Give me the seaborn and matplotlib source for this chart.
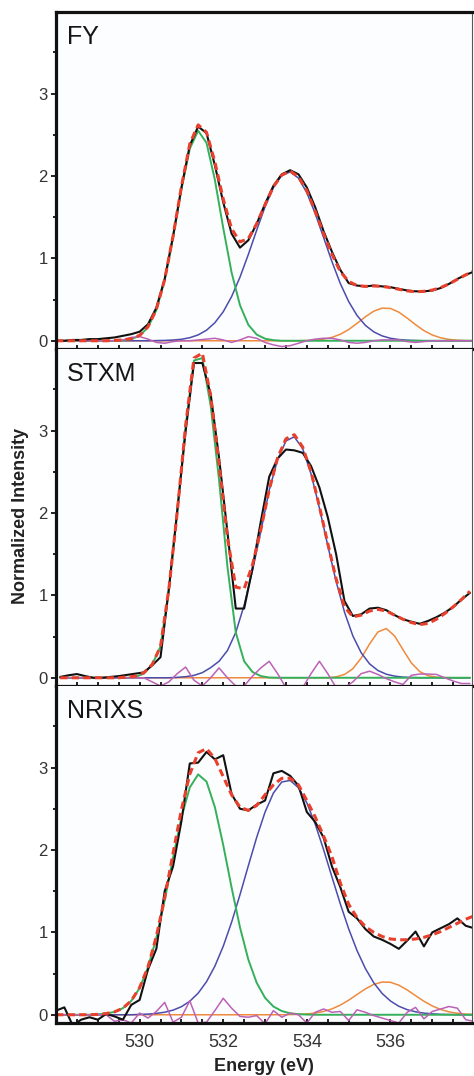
import numpy as np
import pandas as pd
import matplotlib
matplotlib.use("Agg")
import matplotlib.pyplot as plt
import seaborn as sns
from matplotlib.ticker import FixedLocator

sns.set_theme(style="white")
plt.rcParams['font.family'] = ['Liberation Sans', 'DejaVu Sans']

# ---------------- data ----------------
panel_names = ["FY", "STXM", "NRIXS"]

# energy sampling grids (eV)
fy_energy = np.linspace(528.0, 538.0, 51)
stxm_energy = np.linspace(528.1, 537.9, 50)
nrixs_energy = np.linspace(528.0, 538.0, 51)

# FY
fy_data = [0.00, 0.00, 0.01, 0.01, 0.02, 0.02, 0.03, 0.04, 0.06, 0.08,
           0.11, 0.20, 0.40, 0.75, 1.27, 1.86, 2.37, 2.60, 2.52, 2.13,
           1.68, 1.30, 1.13, 1.22, 1.42, 1.66, 1.88, 2.02, 2.07, 2.02,
           1.86, 1.62, 1.33, 1.08, 0.86, 0.70, 0.67, 0.66, 0.67, 0.66,
           0.65, 0.63, 0.61, 0.60, 0.60, 0.61, 0.64, 0.69, 0.75, 0.80, 0.84]
fy_fit = [0.00, 0.00, 0.00, 0.00, 0.00, 0.00, 0.00, 0.005, 0.01, 0.025,
          0.065, 0.17, 0.38, 0.745, 1.27, 1.87, 2.39, 2.62, 2.53, 2.17,
          1.72, 1.36, 1.20, 1.24, 1.42, 1.65, 1.87, 2.01, 2.06, 1.99,
          1.82, 1.57, 1.30, 1.05, 0.84, 0.72, 0.67, 0.66, 0.665, 0.66,
          0.645, 0.625, 0.605, 0.595, 0.60, 0.615, 0.645, 0.69, 0.745, 0.80, 0.85]
fy_green = [0, 0, 0, 0, 0, 0, 0, 0, 0.006, 0.02,
            0.061, 0.163, 0.372, 0.736, 1.254, 1.841, 2.331, 2.549, 2.402, 1.953,
            1.369, 0.828, 0.432, 0.194, 0.075, 0.025, 0.007, 0, 0, 0,
            0, 0, 0, 0, 0, 0, 0, 0, 0, 0,
            0, 0, 0, 0, 0, 0, 0, 0, 0, 0, 0]
fy_blue = [0, 0, 0, 0, 0, 0, 0, 0, 0, 0,
           0, 0, 0.002, 0.004, 0.009, 0.018, 0.037, 0.071, 0.128, 0.219,
           0.352, 0.536, 0.771, 1.047, 1.342, 1.626, 1.859, 2.008, 2.049, 1.974,
           1.796, 1.544, 1.253, 0.961, 0.695, 0.476, 0.307, 0.187, 0.108, 0.059,
           0.030, 0.015, 0.007, 0.003, 0, 0, 0, 0, 0, 0, 0]
fy_orange = [0, 0, 0, 0, 0, 0, 0, 0, 0, 0,
             0, 0, 0, 0, 0, 0, 0, 0, 0, 0,
             0, 0, 0, 0, 0, 0, 0, 0, 0, 0,
             0.003, 0.008, 0.019, 0.041, 0.079, 0.136, 0.211, 0.291, 0.359, 0.396,
             0.392, 0.347, 0.275, 0.195, 0.123, 0.070, 0.036, 0.016, 0.007, 0.002, 0.001]
fy_resid = [0, 0, 0, 0, 0, 0, 0, 0, 0.01, 0.04,
            0.05, 0.02, -0.02, -0.03, -0.01, 0.0, 0.0, 0.01, 0.02, 0.03,
            0.01, -0.02, 0.01, 0.05, 0.03, -0.02, -0.05, -0.07, -0.06, -0.03,
            0.0, 0.02, 0.03, 0.03, 0.01, -0.02, -0.03, -0.02, 0.0, 0.01,
            0.01, 0.01, -0.01, -0.02, -0.01, 0, 0, 0, 0, 0, 0]

# STXM
stxm_data = [0.01, 0.03, 0.045, 0.02, 0.00, 0.00, 0.01, 0.02, 0.035, 0.05,
             0.065, 0.15, 0.25, 1.08, 2.03, 2.99, 3.82, 3.82, 3.44, 2.67,
             1.77, 0.84, 0.84, 1.33, 1.90, 2.44, 2.66, 2.77, 2.76, 2.73,
             2.57, 2.31, 1.95, 1.50, 0.93, 0.75, 0.77, 0.84, 0.85, 0.82,
             0.76, 0.71, 0.68, 0.655, 0.69, 0.735, 0.79, 0.86, 0.95, 1.03]
stxm_fit = [0.00, 0.00, 0.00, 0.00, 0.00, 0.00, 0.00, 0.00, 0.01, 0.02,
            0.06, 0.16, 0.38, 1.08, 2.01, 3.06, 3.88, 3.94, 3.42, 2.60,
            1.70, 1.10, 1.08, 1.37, 1.80, 2.28, 2.67, 2.90, 2.95, 2.80,
            2.50, 2.08, 1.63, 1.20, 0.86, 0.74, 0.76, 0.81, 0.83, 0.81,
            0.76, 0.71, 0.67, 0.645, 0.66, 0.71, 0.78, 0.86, 0.95, 1.05]
stxm_green = [0, 0, 0, 0, 0, 0, 0, 0, 0, 0.01,
              0.05, 0.16, 0.38, 1.07, 2.00, 3.05, 3.85, 3.88, 3.30, 2.40,
              1.35, 0.55, 0.20, 0.07, 0.02, 0.003, 0, 0, 0, 0,
              0, 0, 0, 0, 0, 0, 0, 0, 0, 0,
              0, 0, 0, 0, 0, 0, 0, 0, 0, 0]
stxm_blue = [0, 0, 0, 0, 0, 0, 0, 0, 0, 0,
             0, 0, 0, 0, 0.005, 0.013, 0.029, 0.062, 0.123, 0.20,
             0.33, 0.55, 0.88, 1.30, 1.78, 2.278, 2.646, 2.875, 2.924, 2.781,
             2.475, 2.061, 1.605, 1.169, 0.797, 0.508, 0.303, 0.169, 0.088, 0.043,
             0.020, 0.008, 0.003, 0, 0, 0, 0, 0, 0, 0]
stxm_orange = [0, 0, 0, 0, 0, 0, 0, 0, 0, 0,
               0, 0, 0, 0, 0, 0, 0, 0, 0, 0,
               0, 0, 0, 0, 0, 0, 0, 0, 0, 0,
               0, 0, 0, 0.011, 0.04, 0.11, 0.239, 0.41, 0.556, 0.597,
               0.507, 0.34, 0.18, 0.075, 0.025, 0.007, 0.002, 0, 0, 0]
stxm_resid = [0, 0, 0, 0, 0, 0, 0, 0, 0, 0,
              0, -0.05, -0.10, -0.05, 0.05, 0.13, -0.03, -0.10, 0.0, 0.12,
              0.0, -0.10, -0.10, 0.02, 0.12, 0.20, 0.05, -0.12, -0.12, -0.12,
              0.05, 0.20, 0.05, -0.12, -0.12, -0.05, 0.05, 0.08, 0.04, -0.01,
              -0.05, -0.08, 0.03, 0.045, 0.045, 0.04, 0.0, -0.04, -0.07, -0.07]

# NRIXS
nrixs_data = [0.05, 0.09, -0.13, -0.06, -0.03, -0.06, 0.01, -0.02, -0.06, 0.12,
              0.18, 0.55, 0.80, 1.50, 1.80, 2.35, 3.05, 3.06, 3.19, 3.10,
              3.15, 2.68, 2.50, 2.48, 2.55, 2.60, 2.93, 2.96, 2.90, 2.78,
              2.46, 2.34, 2.15, 1.80, 1.55, 1.25, 1.17, 1.04, 0.95, 0.91,
              0.86, 0.80, 0.90, 1.01, 0.83, 1.00, 1.05, 1.10, 1.17, 1.08, 1.05]
nrixs_fit = [0.0, 0.0, 0.0, 0.0, 0.0, 0.005, 0.015, 0.035, 0.08, 0.17,
             0.33, 0.58, 0.95, 1.42, 1.96, 2.49, 2.92, 3.18, 3.23, 3.11,
             2.89, 2.67, 2.52, 2.48, 2.54, 2.67, 2.79, 2.87, 2.87, 2.79,
             2.60, 2.40, 2.17, 1.92, 1.60, 1.34, 1.18, 1.07, 1.0, 0.95,
             0.92, 0.91, 0.91, 0.92, 0.94, 0.97, 1.01, 1.06, 1.11, 1.16, 1.20]
nrixs_green = [0, 0, 0, 0, 0, 0.005, 0.014, 0.035, 0.08, 0.168,
               0.324, 0.574, 0.933, 1.392, 1.906, 2.394, 2.759, 2.917, 2.83, 2.52,
               2.059, 1.544, 1.062, 0.67, 0.388, 0.206, 0.10, 0.045, 0.018, 0.007,
               0.002, 0, 0, 0, 0, 0, 0, 0, 0, 0,
               0, 0, 0, 0, 0, 0, 0, 0, 0, 0, 0]
nrixs_blue = [0, 0, 0, 0, 0, 0, 0, 0, 0, 0,
              0.004, 0.008, 0.016, 0.031, 0.056, 0.098, 0.164, 0.262, 0.401, 0.59,
              0.831, 1.123, 1.456, 1.808, 2.153, 2.459, 2.691, 2.825, 2.844, 2.755,
              2.572, 2.313, 2.004, 1.673, 1.346, 1.043, 0.779, 0.561, 0.388, 0.259,
              0.167, 0.103, 0.062, 0.036, 0.02, 0.011, 0.005, 0.003, 0, 0, 0]
nrixs_orange = [0, 0, 0, 0, 0, 0, 0, 0, 0, 0,
                0, 0, 0, 0, 0, 0, 0, 0, 0, 0,
                0, 0, 0, 0, 0, 0, 0, 0, 0.002, 0.004,
                0.01, 0.021, 0.04, 0.071, 0.117, 0.177, 0.246, 0.314, 0.368, 0.397,
                0.394, 0.359, 0.301, 0.232, 0.164, 0.107, 0.064, 0.035, 0.018, 0.008, 0.004]
nrixs_resid = [0, 0, 0, 0, 0, 0, 0, -0.08, -0.06, -0.10,
               0.02, -0.04, 0.04, 0.15, -0.09, -0.03, 0.17, -0.10, -0.09, 0.05,
               0.20, 0.08, -0.02, -0.03, -0.01, -0.11, 0.05, -0.03, 0.02, 0.0,
               -0.10, 0.03, 0.07, 0.03, 0.04, -0.07, 0.06, 0.03, -0.01, -0.04,
               -0.07, -0.10, 0.03, 0.09, -0.05, 0.04, 0.07, 0.10, 0.08, -0.06, -0.08]

x_major = [530, 532, 534, 536]
x_minor = [528.5, 529.0, 529.5, 530.5, 531.0, 531.5, 532.5, 533.0, 533.5,
           534.5, 535.0, 535.5, 536.5, 537.0, 537.5]
y_major = [0, 1, 2, 3]
y_minor = [0.5, 1.5, 2.5, 3.5]

panels = [
    (fy_energy, fy_data, fy_fit, fy_green, fy_blue, fy_orange, fy_resid),
    (stxm_energy, stxm_data, stxm_fit, stxm_green, stxm_blue, stxm_orange, stxm_resid),
    (nrixs_energy, nrixs_data, nrixs_fit, nrixs_green, nrixs_blue, nrixs_orange, nrixs_resid),
]

# ---------------- styling ----------------
c_green = "#35b05a"
c_blue = "#4c4cad"
c_orange = "#f08a3c"
c_purple = "#bb62b6"
c_black = "#111111"
c_red = "#e8402c"

W, H = 474, 1076
fig = plt.figure(figsize=(W / 100, H / 100), dpi=100)
left = 56 / W
width = 416 / W
h = 337 / H
tops = [12, 349, 686]

axes = []
for i, (name, pdata) in enumerate(zip(panel_names, panels)):
    E, data, fit, green, blue, orange, resid = pdata
    ax = fig.add_axes([left, 1 - (tops[i] + 337) / H, width, h])
    axes.append(ax)
    df = pd.DataFrame({"E": E, "data": data, "fit": fit, "green": green,
                       "blue": blue, "orange": orange, "resid": resid})
    sns.lineplot(data=df, x="E", y="orange", ax=ax, color=c_orange, lw=1.1,
                 estimator=None, sort=False)
    sns.lineplot(data=df, x="E", y="blue", ax=ax, color=c_blue, lw=1.1,
                 estimator=None, sort=False)
    sns.lineplot(data=df, x="E", y="green", ax=ax, color=c_green, lw=1.4,
                 estimator=None, sort=False)
    sns.lineplot(data=df, x="E", y="resid", ax=ax, color=c_purple, lw=1.1,
                 estimator=None, sort=False)
    sns.lineplot(data=df, x="E", y="data", ax=ax, color=c_black, lw=1.5,
                 estimator=None, sort=False)
    sns.lineplot(data=df, x="E", y="fit", ax=ax, color=c_red, lw=2.2,
                 linestyle=(0, (2.4, 1.4)), estimator=None, sort=False)

    ax.set_xlim(528.0, 537.95)
    ax.set_ylim(-0.1, 3.99)
    ax.set_facecolor("#fcfdfe")
    ax.xaxis.set_major_locator(FixedLocator(x_major))
    ax.xaxis.set_minor_locator(FixedLocator(x_minor))
    ax.yaxis.set_major_locator(FixedLocator(y_major))
    ax.yaxis.set_minor_locator(FixedLocator(y_minor))
    ax.tick_params(axis="x", which="both", direction="in", length=3.2,
                   width=1.3, color="#111111", labelsize=13, labelcolor="#333333",
                   pad=8, bottom=True, top=False)
    ax.tick_params(axis="y", which="major", direction="out", length=3.8,
                   width=1.3, color="#111111", labelsize=12, labelcolor="#333333",
                   pad=2, left=True, right=False)
    ax.tick_params(axis="y", which="minor", direction="out", length=2.2,
                   width=1.3, color="#111111", left=True, right=False)
    for s in ["left", "bottom"]:
        ax.spines[s].set_linewidth(2.3)
        ax.spines[s].set_color("#111111")
    ax.spines["right"].set_linewidth(0.8)
    ax.spines["right"].set_color("#555555")
    if i == 0:
        ax.spines["top"].set_linewidth(2.3)
        ax.spines["top"].set_color("#111111")
    else:
        ax.spines["top"].set_visible(False)
    ax.set_ylabel("")
    if i < 2:
        ax.set_xlabel("")
        ax.tick_params(axis="x", labelbottom=False)
    else:
        ax.set_xlabel("Energy (eV)", fontsize=13, fontweight="bold",
                      color="#222222", labelpad=5)
    ax.text(0.027, 0.962, name, transform=ax.transAxes, fontsize=18,
            ha="left", va="top", color="#151515")

fig.text(20.5 / W, 1 - 516 / H, "Normalized Intensity", rotation=90,
         ha="center", va="center", fontsize=13, fontweight="bold",
         color="#222222")

fig.savefig("out.png", dpi=100)
